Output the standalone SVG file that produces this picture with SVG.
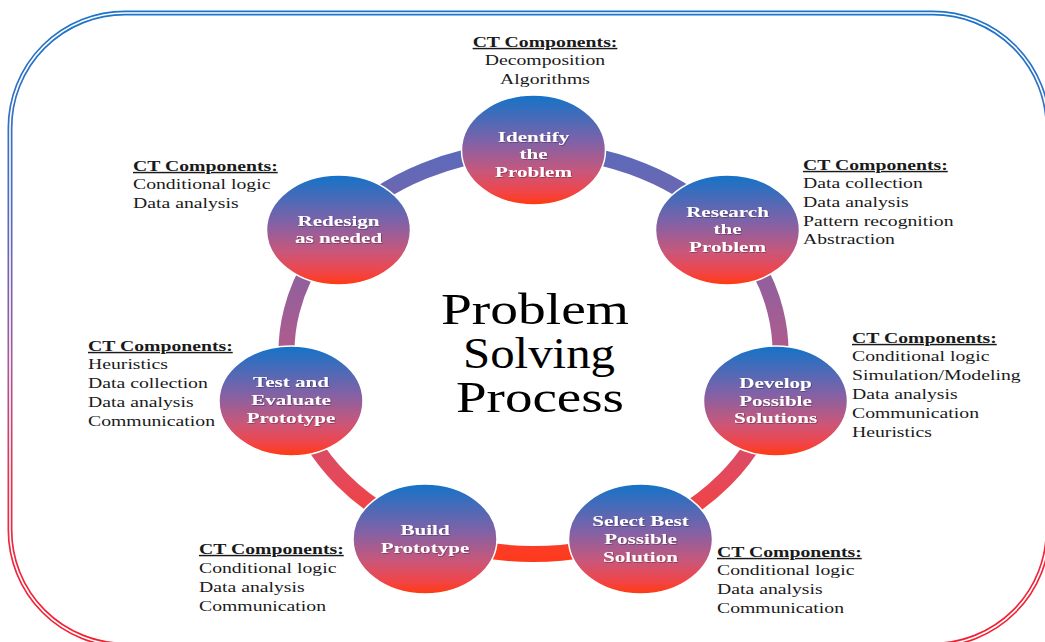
<svg xmlns="http://www.w3.org/2000/svg" width="1045" height="642" viewBox="0 0 1045 642">
<defs>
<linearGradient id="borderGrad" gradientUnits="userSpaceOnUse" x1="0" y1="13" x2="0" y2="645">
<stop offset="0" stop-color="#1c74c9"/>
<stop offset="0.3" stop-color="#4f6cc0"/>
<stop offset="0.55" stop-color="#a45a9a"/>
<stop offset="0.75" stop-color="#e8304c"/>
<stop offset="1" stop-color="#f41e30"/>
</linearGradient>
<linearGradient id="ringGrad" gradientUnits="userSpaceOnUse" x1="0" y1="150" x2="0" y2="560">
<stop offset="0" stop-color="#5a6abb"/>
<stop offset="0.15" stop-color="#7465ad"/>
<stop offset="0.45" stop-color="#a95c90"/>
<stop offset="0.8" stop-color="#e5485a"/>
<stop offset="1" stop-color="#ff3a1c"/>
</linearGradient>
<linearGradient id="nodeGrad" x1="0" y1="0" x2="0" y2="1">
<stop offset="0" stop-color="#1373c8"/>
<stop offset="0.42" stop-color="#7e62a8"/>
<stop offset="0.7" stop-color="#c9577a"/>
<stop offset="0.88" stop-color="#f0454a"/>
<stop offset="1" stop-color="#ff3a10"/>
</linearGradient>
<filter id="ts" x="-10%" y="-10%" width="120%" height="130%">
<feDropShadow dx="0.6" dy="0.8" stdDeviation="0.5" flood-color="#000" flood-opacity="0.35"/>
</filter>
<style>
.ct { font-family: "Liberation Serif", "Times New Roman", serif; font-size: 14.5px; fill: #1a1a1a; }
.ct .h { font-weight: bold; text-decoration: underline; }
.lbl { font-family: "Liberation Serif", "Times New Roman", serif; font-size: 15.5px; font-weight: bold; fill: #ffffff; text-anchor: middle; }
.node ellipse { fill: url(#nodeGrad); stroke: #ffffff; stroke-width: 1.5; }
.seg { fill: none; stroke: url(#ringGrad); stroke-width: 16; }
.title { font-family: "Liberation Serif", "Times New Roman", serif; font-size: 44px; fill: #000; }
</style>
</defs>

<g id="border">
<rect x="10" y="13" width="1038" height="632" rx="115" ry="115" fill="none" stroke="url(#borderGrad)" stroke-width="5"/>
<rect x="10" y="13" width="1038" height="632" rx="115" ry="115" fill="none" stroke="#ffffff" stroke-width="1.6"/>
</g>

<g id="connectors">
<path class="seg" d="M533.5,150 A247,202 0 0 1 729.4,229"/>
<path class="seg" d="M729.4,229 A247,202 0 0 1 773.1,401"/>
<path class="seg" d="M773.1,401 A247,202 0 0 1 640.5,534.1"/>
<path class="seg" d="M640.5,534.1 A247,202 0 0 1 425,533.5"/>
<path class="seg" d="M425,533.5 A247,202 0 0 1 293.9,401"/>
<path class="seg" d="M293.9,401 A247,202 0 0 1 337.6,229"/>
<path class="seg" d="M337.6,229 A247,202 0 0 1 533.5,150"/>
</g>

<g id="title">
<text class="title" x="441" y="324" textLength="188" lengthAdjust="spacingAndGlyphs">Problem</text>
<text class="title" x="463" y="368" textLength="152" lengthAdjust="spacingAndGlyphs">Solving</text>
<text class="title" x="456" y="412" textLength="168" lengthAdjust="spacingAndGlyphs">Process</text>
</g>

<g id="node-identify" class="node">
<ellipse cx="533.5" cy="150" rx="72" ry="55"/>
<g transform="translate(533.5,0) scale(1.36,1)" filter="url(#ts)">
<text class="lbl" x="0" y="142">Identify</text>
<text class="lbl" x="0" y="159">the</text>
<text class="lbl" x="0" y="177">Problem</text>
</g>
</g>

<g id="node-research" class="node">
<ellipse cx="727.5" cy="230" rx="72" ry="55"/>
<g transform="translate(727.5,0) scale(1.36,1)" filter="url(#ts)">
<text class="lbl" x="0" y="217">Research</text>
<text class="lbl" x="0" y="234">the</text>
<text class="lbl" x="0" y="252">Problem</text>
</g>
</g>

<g id="node-develop" class="node">
<ellipse cx="775.5" cy="401" rx="72" ry="55"/>
<g transform="translate(775.5,0) scale(1.36,1)" filter="url(#ts)">
<text class="lbl" x="0" y="388">Develop</text>
<text class="lbl" x="0" y="406">Possible</text>
<text class="lbl" x="0" y="423">Solutions</text>
</g>
</g>

<g id="node-select" class="node">
<ellipse cx="640.5" cy="539" rx="72" ry="55"/>
<g transform="translate(640.5,0) scale(1.36,1)" filter="url(#ts)">
<text class="lbl" x="0" y="526">Select Best</text>
<text class="lbl" x="0" y="544">Possible</text>
<text class="lbl" x="0" y="562">Solution</text>
</g>
</g>

<g id="node-build" class="node">
<ellipse cx="425" cy="539" rx="72" ry="55"/>
<g transform="translate(425,0) scale(1.36,1)" filter="url(#ts)">
<text class="lbl" x="0" y="535">Build</text>
<text class="lbl" x="0" y="553">Prototype</text>
</g>
</g>

<g id="node-test" class="node">
<ellipse cx="291" cy="401" rx="72" ry="55"/>
<g transform="translate(291,0) scale(1.36,1)" filter="url(#ts)">
<text class="lbl" x="0" y="387">Test and</text>
<text class="lbl" x="0" y="405">Evaluate</text>
<text class="lbl" x="0" y="423">Prototype</text>
</g>
</g>

<g id="node-redesign" class="node">
<ellipse cx="338.5" cy="230" rx="72" ry="55"/>
<g transform="translate(338.5,0) scale(1.36,1)" filter="url(#ts)">
<text class="lbl" x="0" y="226">Redesign</text>
<text class="lbl" x="0" y="243">as needed</text>
</g>
</g>

<g id="ct-identify" class="ct" transform="translate(545,0) scale(1.36,1)" text-anchor="middle">
<text class="h" x="0" y="47">CT Components:</text>
<text x="0" y="65">Decomposition</text>
<text x="0" y="84">Algorithms</text>
</g>

<g id="ct-redesign" class="ct" transform="translate(133,0) scale(1.36,1)">
<text class="h" x="0" y="171">CT Components:</text>
<text x="0" y="189">Conditional logic</text>
<text x="0" y="208">Data analysis</text>
</g>

<g id="ct-research" class="ct" transform="translate(803,0) scale(1.36,1)">
<text class="h" x="0" y="170">CT Components:</text>
<text x="0" y="188">Data collection</text>
<text x="0" y="207">Data analysis</text>
<text x="0" y="226">Pattern recognition</text>
<text x="0" y="244">Abstraction</text>
</g>

<g id="ct-test" class="ct" transform="translate(88,0) scale(1.36,1)">
<text class="h" x="0" y="351">CT Components:</text>
<text x="0" y="369">Heuristics</text>
<text x="0" y="388">Data collection</text>
<text x="0" y="407">Data analysis</text>
<text x="0" y="426">Communication</text>
</g>

<g id="ct-develop" class="ct" transform="translate(852,0) scale(1.36,1)">
<text class="h" x="0" y="343">CT Components:</text>
<text x="0" y="361">Conditional logic</text>
<text x="0" y="380">Simulation/Modeling</text>
<text x="0" y="399">Data analysis</text>
<text x="0" y="418">Communication</text>
<text x="0" y="437">Heuristics</text>
</g>

<g id="ct-build" class="ct" transform="translate(199,0) scale(1.36,1)">
<text class="h" x="0" y="554">CT Components:</text>
<text x="0" y="573">Conditional logic</text>
<text x="0" y="592">Data analysis</text>
<text x="0" y="611">Communication</text>
</g>

<g id="ct-select" class="ct" transform="translate(717,0) scale(1.36,1)">
<text class="h" x="0" y="557">CT Components:</text>
<text x="0" y="575">Conditional logic</text>
<text x="0" y="594">Data analysis</text>
<text x="0" y="613">Communication</text>
</g>
</svg>
